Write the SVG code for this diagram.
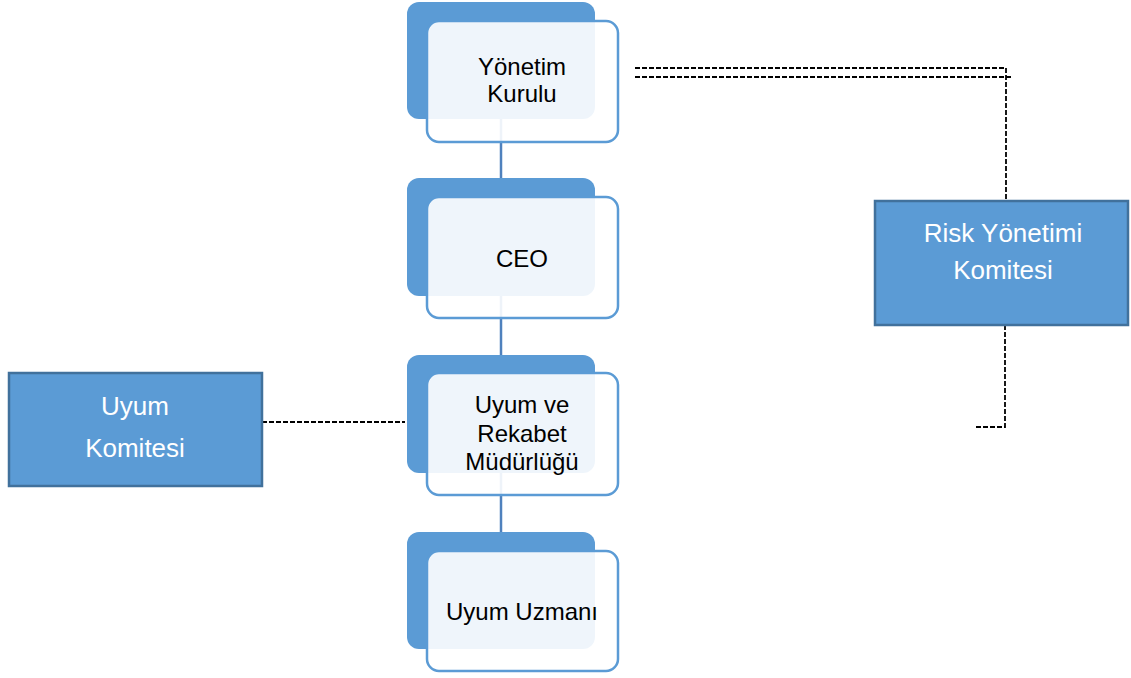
<svg xmlns="http://www.w3.org/2000/svg" width="1131" height="678" viewBox="0 0 1131 678">
<style>
.back{fill:#5B9BD5;}
.front{fill:#FFFFFF;fill-opacity:0.9;stroke:#5B9BD5;stroke-width:2.5;}
.lbl{font-family:"Liberation Sans",Arial,sans-serif;font-size:24px;fill:#000;text-anchor:middle;}
.wlbl{font-family:"Liberation Sans",Arial,sans-serif;font-size:26px;fill:#fff;text-anchor:middle;}
.box{fill:#5B9BD5;stroke:#41719C;stroke-width:2.5;}
.solid{stroke:#4F81BD;stroke-width:2.5;fill:none;}
.dash{stroke:#000;stroke-width:1.8;stroke-dasharray:5 2;fill:none;}
</style>
<rect width="1131" height="678" fill="#fff"/>
<g id="connectors">
<line class="solid" x1="501" y1="119" x2="501" y2="178"/>
<line class="solid" x1="501" y1="296" x2="501" y2="355"/>
<line class="solid" x1="501" y1="473" x2="501" y2="532"/>
<line class="dash" x1="262" y1="422" x2="405" y2="422"/>
<polyline class="dash" points="635,68 1006,68 1006,201"/>
<line class="dash" x1="635" y1="77" x2="1012" y2="77" stroke-width="1.2"/>
<polyline class="dash" points="1005,325 1005,427 975,427"/>
</g>
<g id="yonetim-kurulu">
<rect class="back" x="407" y="2" width="188" height="117" rx="12"/>
<rect class="front" x="427" y="21" width="191" height="121" rx="12"/>
<text class="lbl"><tspan x="522" y="75">Yönetim</tspan><tspan x="522" y="102">Kurulu</tspan></text>
</g>
<g id="ceo">
<rect class="back" x="407" y="178" width="188" height="118" rx="12"/>
<rect class="front" x="427" y="197" width="191" height="121" rx="12"/>
<text class="lbl" x="522" y="267">CEO</text>
</g>
<g id="uyum-rekabet">
<rect class="back" x="407" y="355" width="188" height="118" rx="12"/>
<rect class="front" x="427" y="373" width="191" height="122" rx="12"/>
<text class="lbl"><tspan x="522" y="413">Uyum ve</tspan><tspan x="522" y="442">Rekabet</tspan><tspan x="522" y="470">Müdürlüğü</tspan></text>
</g>
<g id="uyum-uzmani">
<rect class="back" x="407" y="532" width="188" height="117" rx="12"/>
<rect class="front" x="427" y="551" width="191" height="120" rx="12"/>
<text class="lbl" x="522" y="620">Uyum Uzmanı</text>
</g>
<g id="uyum-komitesi">
<rect class="box" x="9" y="373" width="253" height="113"/>
<text class="wlbl"><tspan x="135" y="415">Uyum</tspan><tspan x="135" y="457">Komitesi</tspan></text>
</g>
<g id="risk-yonetimi-komitesi">
<rect class="box" x="875" y="201" width="253" height="124"/>
<text class="wlbl"><tspan x="1003" y="242">Risk Yönetimi</tspan><tspan x="1003" y="279">Komitesi</tspan></text>
</g>
</svg>
